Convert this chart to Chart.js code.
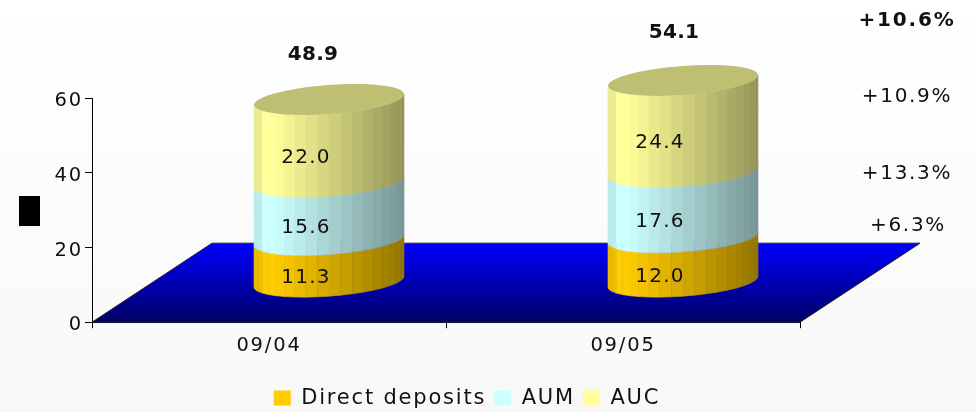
<!DOCTYPE html>
<html>
<head>
<meta charset="utf-8">
<title>Chart</title>
<style>
html, body { margin: 0; padding: 0; background: linear-gradient(#ffffff, #f8f8f8); }
canvas { display: block; }
</style>
<script src="https://cdn.jsdelivr.net/npm/chart.js@4"></script>
</head>
<body>
<canvas id="grafico" width="976" height="412"></canvas>
<script>
const categories = ['09/04', '09/05'];
const directDeposits = [11.3, 12.0];
const aum = [15.6, 17.6];
const auc = [22.0, 24.4];
const totals = [48.9, 54.1];
const growthLabels = ['+10.6%', '+10.9%', '+13.3%', '+6.3%'];
const yTicks = [0, 20, 40, 60];

// layout of the free texts, kept apart from the values
const growthPos = [[907, 21, true], [907, 97, false], [907, 174, false], [908, 226, false]];
const totalNudge = [[-16, -45], [-9, -48]];

const FONT = '"DejaVu Sans"';
const TEXT = '#111111';
const SPACING = '1.8px';

// the floor goes back 120px and up 79px, the cylinders stand halfway
const FLOOR_X = 120, FLOOR_Y = -79;
const DEPTH_X = 60, DEPTH_Y = -40;
const RIM_Y = 14.5, RIM_TILT = 5.4;
const FACETS = 20;

function shade(hex, f) {
    const n = parseInt(hex.slice(1), 16);
    const c = [n >> 16, (n >> 8) & 255, n & 255].map(v => Math.round(v * f));
    return `rgb(${c[0]},${c[1]},${c[2]})`;
}

function rim(cx, cy, rx, t) {
    return [cx + rx * Math.cos(t), cy + RIM_Y * Math.sin(t) - RIM_TILT * Math.cos(t)];
}

function facetShade(u) {
    if (u < 0.04) return 0.92;
    if (u < 0.14) return 1;
    return 1 - 0.42 * (u - 0.14) / 0.86;
}

function drawSegment(ctx, bar, color) {
    const cx = bar.x + DEPTH_X;
    const rx = bar.width / 2;
    const top = bar.y + DEPTH_Y;
    const bottom = bar.base + DEPTH_Y;
    for (let i = 0; i < FACETS; i++) {
        const t0 = Math.PI - Math.PI * i / FACETS;
        const t1 = Math.PI - Math.PI * (i + 1) / FACETS;
        const a = rim(cx, bottom, rx, t0), b = rim(cx, bottom, rx, t1);
        const c = rim(cx, top, rx, t1), d = rim(cx, top, rx, t0);
        const fill = shade(color, facetShade(((a[0] + b[0]) / 2 - (cx - rx)) / (2 * rx)));
        ctx.fillStyle = fill;
        ctx.strokeStyle = fill;
        ctx.lineWidth = 0.6;
        ctx.beginPath();
        ctx.moveTo(a[0], a[1]);
        ctx.lineTo(b[0], b[1]);
        ctx.lineTo(c[0], c[1]);
        ctx.lineTo(d[0], d[1]);
        ctx.closePath();
        ctx.fill();
        ctx.stroke();
    }
}

function drawCap(ctx, bar, color) {
    const cx = bar.x + DEPTH_X;
    const cy = bar.y + DEPTH_Y;
    ctx.fillStyle = shade(color, 0.75);
    ctx.beginPath();
    for (let i = 0; i < FACETS * 2; i++) {
        const p = rim(cx, cy, bar.width / 2, Math.PI * i / FACETS);
        if (i === 0) ctx.moveTo(p[0], p[1]); else ctx.lineTo(p[0], p[1]);
    }
    ctx.closePath();
    ctx.fill();
}

function drawFloor(chart) {
    const ctx = chart.ctx;
    const area = chart.chartArea;
    const grad = ctx.createLinearGradient(0, area.bottom + FLOOR_Y, 0, area.bottom);
    grad.addColorStop(0, '#0000ff');
    grad.addColorStop(1, '#000066');
    ctx.fillStyle = grad;
    ctx.strokeStyle = '#222222';
    ctx.lineWidth = 1;
    ctx.beginPath();
    ctx.moveTo(area.left, area.bottom);
    ctx.lineTo(area.left + FLOOR_X, area.bottom + FLOOR_Y);
    ctx.lineTo(area.right + FLOOR_X, area.bottom + FLOOR_Y);
    ctx.lineTo(area.right, area.bottom);
    ctx.closePath();
    ctx.fill();
    ctx.stroke();
}

function writeText(ctx, text, x, y, font, spacing) {
    ctx.font = `${font} ${FONT}`;
    ctx.letterSpacing = spacing;
    ctx.fillStyle = TEXT;
    ctx.textAlign = 'center';
    ctx.textBaseline = 'middle';
    ctx.fillText(text, x, y);
}

const cilindros = {
    id: 'cilindros',
    beforeLayout(chart) {
        chart.ctx.letterSpacing = SPACING;
    },
    afterLayout(chart) {
        // legend sits under the middle of the floor, not of the plot
        chart.legend.right += 134;
        chart.legend.top += 6.6;
    },
    beforeDatasetsDraw(chart) {
        const ctx = chart.ctx;
        ctx.save();
        drawFloor(chart);
        chart.data.datasets.forEach((ds, i) => {
            chart.getDatasetMeta(i).data.forEach(bar => drawSegment(ctx, bar, ds.backgroundColor));
        });
        const last = chart.data.datasets.length - 1;
        chart.getDatasetMeta(last).data.forEach(bar => {
            drawCap(ctx, bar, chart.data.datasets[last].backgroundColor);
        });

        chart.data.datasets.forEach((ds, i) => {
            chart.getDatasetMeta(i).data.forEach((bar, j) => {
                writeText(ctx, ds.data[j].toFixed(1), bar.x + DEPTH_X - 23, (bar.y + bar.base) / 2 + DEPTH_Y + 17, '20px', '1.2px');
            });
        });
        chart.getDatasetMeta(last).data.forEach((bar, j) => {
            writeText(ctx, totals[j].toFixed(1), bar.x + DEPTH_X + totalNudge[j][0], bar.y + DEPTH_Y + totalNudge[j][1], 'bold 20px', '0.3px');
        });
        growthLabels.forEach((label, i) => {
            if (growthPos[i][2]) writeText(ctx, label, growthPos[i][0], growthPos[i][1], 'bold 20px', '1.8px');
            else writeText(ctx, label, growthPos[i][0], growthPos[i][1], '20px', '1.7px');
        });
        ctx.letterSpacing = SPACING;

        // black block where the axis title was
        ctx.fillStyle = '#000000';
        ctx.fillRect(19, 196, 21, 30);
        ctx.restore();
        return false;
    }
};

new Chart(document.getElementById('grafico'), {
    type: 'bar',
    plugins: [cilindros],
    data: {
        labels: categories,
        datasets: [
            { label: 'Direct deposits', data: directDeposits, backgroundColor: '#ffcc00', barThickness: 150 },
            { label: 'AUM', data: aum, backgroundColor: '#ccffff', barThickness: 150 },
            { label: 'AUC', data: auc, backgroundColor: '#ffff99', barThickness: 150 }
        ]
    },
    options: {
        responsive: false,
        animation: false,
        layout: { padding: { left: 0, right: 176, top: 98, bottom: 0 } },
        plugins: {
            tooltip: { enabled: false },
            legend: {
                position: 'bottom',
                labels: {
                    color: TEXT,
                    font: { family: FONT, size: 21 },
                    boxWidth: 17,
                    boxHeight: 15,
                    padding: 8
                }
            }
        },
        scales: {
            x: {
                stacked: true,
                afterFit: s => { s.height = 50.8; },
                grid: { drawOnChartArea: false, tickColor: '#000000', tickLength: 6 },
                border: { color: '#000000', width: 1 },
                ticks: { color: TEXT, font: { family: FONT, size: 19.5 }, padding: 6, maxRotation: 0 }
            },
            y: {
                stacked: true,
                min: yTicks[0],
                max: yTicks[yTicks.length - 1],
                afterFit: s => { s.width = 92; },
                afterBuildTicks: s => { s.ticks = yTicks.map(v => ({ value: v })); },
                grid: { drawOnChartArea: false, tickColor: '#000000', tickLength: 7 },
                border: { color: '#000000', width: 1 },
                ticks: { color: TEXT, font: { family: FONT, size: 19.5 }, padding: 2, labelOffset: 3 }
            }
        }
    }
});
</script>
</body>
</html>
